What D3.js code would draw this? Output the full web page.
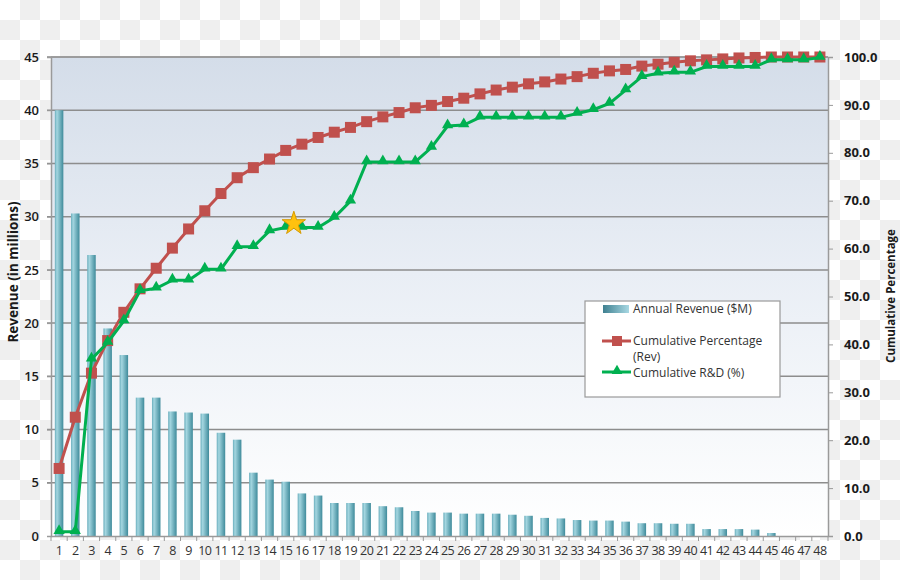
<!DOCTYPE html>
<html><head><meta charset="utf-8">
<script src="https://cdn.jsdelivr.net/npm/d3@7"></script>
<style>html,body{margin:0;padding:0;background:#fff;}svg{display:block;}</style>
</head><body>
<svg id="chart" width="900" height="580"></svg>
<script>
const categories = ["1","2","3","4","5","6","7","8","9","10","11","12","13","14","15","16","17","18","19","20","21","22","23","24","25","26","27","28","29","30","31","32","33","34","35","36","37","38","39","40","41","42","43","44","45","46","47","48"];
const revenue = [40.0,30.3,26.4,19.5,17.0,13.0,13.0,11.7,11.6,11.5,9.7,9.05,5.95,5.3,5.1,4.0,3.8,3.1,3.1,3.1,2.8,2.7,2.35,2.2,2.2,2.1,2.1,2.1,2.0,1.9,1.7,1.65,1.5,1.45,1.45,1.35,1.2,1.2,1.15,1.15,0.65,0.65,0.65,0.6,0.28,0,0,0];
const cumRevPct = [14.1,24.8,34.0,40.8,46.7,51.6,55.9,60.1,64.1,67.9,71.5,74.8,76.9,78.7,80.5,81.8,83.2,84.3,85.3,86.5,87.5,88.4,89.4,89.9,90.7,91.4,92.3,93.1,93.7,94.4,94.8,95.4,95.9,96.6,97.1,97.4,98.1,98.5,98.9,99.2,99.4,99.6,99.8,99.9,100,100,100,100];
const cumRnD = [0.9,0.9,36.9,40.4,44.9,51.2,51.7,53.4,53.4,55.7,55.7,60.4,60.4,63.7,64.4,64.4,64.4,66.5,69.9,78.1,78.1,78.1,78.1,81.1,85.6,85.8,87.4,87.4,87.4,87.4,87.4,87.4,88.2,89.0,90.3,93.1,95.9,96.6,96.8,96.8,98.0,98.0,98.0,98.0,99.4,99.4,99.4,99.9];
const leftTicks = [0,5,10,15,20,25,30,35,40,45];
const rightTicks = [0,10,20,30,40,50,60,70,80,90,100];
const starIndex = 14;
const legendLabels = ["Annual Revenue ($M)", "Cumulative Percentage", "(Rev)", "Cumulative R&D (%)"];

const svg = d3.select("#chart");
const defs = svg.append("defs");

const pat = defs.append("pattern").attr("id","checker").attr("width",40).attr("height",40).attr("patternUnits","userSpaceOnUse");
pat.append("rect").attr("width",40).attr("height",40).attr("fill","#ffffff");
pat.append("rect").attr("x",20).attr("y",0).attr("width",20).attr("height",20).attr("fill","#efefef");
pat.append("rect").attr("x",0).attr("y",20).attr("width",20).attr("height",20).attr("fill","#efefef");
svg.append("rect").attr("width",900).attr("height",580).attr("fill","url(#checker)");

const bg = defs.append("linearGradient").attr("id","plotbg").attr("x1",0).attr("y1",0).attr("x2",0).attr("y2",1);
bg.append("stop").attr("offset","0%").attr("stop-color","#d4dde9");
bg.append("stop").attr("offset","45%").attr("stop-color","#e9eef5");
bg.append("stop").attr("offset","100%").attr("stop-color","#ffffff");

const barG = defs.append("linearGradient").attr("id","bargrad").attr("x1",0).attr("y1",0).attr("x2",1).attr("y2",0);
barG.append("stop").attr("offset","0%").attr("stop-color","#6aaebd");
barG.append("stop").attr("offset","25%").attr("stop-color","#a4d6e0");
barG.append("stop").attr("offset","100%").attr("stop-color","#3f8b9b");

const legG = defs.append("linearGradient").attr("id","leggrad").attr("x1",0).attr("y1",0).attr("x2",1).attr("y2",0);
legG.append("stop").attr("offset","0%").attr("stop-color","#3f8090");
legG.append("stop").attr("offset","100%").attr("stop-color","#a8d8e3");

const L = 51, R = 828, T = 57, B = 536;
const x = d3.scaleBand().domain(categories).range([L, R]).padding(0);
const yL = d3.scaleLinear().domain([0,45]).range([B, T]);
const yR = d3.scaleLinear().domain([0,100]).range([B, T]);

svg.append("rect").attr("x",L).attr("y",T).attr("width",R-L).attr("height",B-T).attr("fill","url(#plotbg)");

svg.append("g").selectAll("line").data(leftTicks.filter(d=>d>0)).join("line")
  .attr("x1",L-4).attr("x2",R).attr("y1",d=>yL(d)).attr("y2",d=>yL(d))
  .attr("stroke","#8d8d8d").attr("stroke-width",1.5);

const bw = 8.5;
svg.append("g").selectAll("rect").data(revenue).join("rect")
  .attr("x",(d,i)=>x(categories[i]) + x.bandwidth()/2 - bw/2)
  .attr("y",d=>yL(d)).attr("width",bw).attr("height",d=>B - yL(d))
  .attr("fill","url(#bargrad)");

const leftAxis = d3.axisLeft(yL).tickValues(leftTicks).tickSize(4).tickPadding(8).tickFormat(d3.format("d"));
const gL = svg.append("g").attr("transform",`translate(${L},0)`).call(leftAxis);
gL.select(".domain").attr("stroke","#9a9a9a").attr("stroke-width",1.5);
gL.selectAll(".tick line").attr("stroke","#9a9a9a");
gL.selectAll("text").attr("font-family","'Open Sans', sans-serif").attr("font-size",13).attr("font-weight",600).attr("fill","#1a1a1a");

const rightAxis = d3.axisRight(yR).tickValues(rightTicks).tickSize(5).tickPadding(11).tickFormat(d3.format(".1f"));
const gR = svg.append("g").attr("transform",`translate(${R},0)`).call(rightAxis);
gR.select(".domain").attr("stroke","#9a9a9a").attr("stroke-width",1.5);
gR.selectAll(".tick line").attr("stroke","#9a9a9a");
gR.selectAll("text").attr("font-family","'Open Sans', sans-serif").attr("font-size",13).attr("font-weight",700).attr("fill","#1a1a1a");

const bottomAxis = d3.axisBottom(x).tickSize(0).tickPadding(10);
const gB = svg.append("g").attr("transform",`translate(0,${B})`).call(bottomAxis);
gB.select(".domain").attr("stroke","#9a9a9a").attr("stroke-width",1.5);
gB.selectAll("text").attr("font-family","'Open Sans', sans-serif").attr("font-size",12.5).attr("letter-spacing","-0.6").attr("fill","#333");
svg.append("g").selectAll("line").data(categories).join("line")
  .attr("x1",d=>x(d)).attr("x2",d=>x(d)).attr("y1",B).attr("y2",B+5)
  .attr("stroke","#9a9a9a").attr("stroke-width",1);
svg.append("line").attr("x1",R).attr("x2",R).attr("y1",B).attr("y2",B+5).attr("stroke","#9a9a9a");

svg.append("line").attr("x1",L).attr("x2",R).attr("y1",T).attr("y2",T).attr("stroke","#9a9a9a").attr("stroke-width",1.5);

const cx = (d,i)=>x(categories[i]) + x.bandwidth()/2;
const redLine = d3.line().x(cx).y(d=>yR(d));
svg.append("path").datum(cumRevPct).attr("d",redLine).attr("fill","none").attr("stroke","#c0504d").attr("stroke-width",3);
svg.append("g").selectAll("rect").data(cumRevPct).join("rect")
  .attr("x",(d,i)=>cx(d,i)-5.5).attr("y",d=>yR(d)-5.5).attr("width",11).attr("height",11)
  .attr("fill","#c0504d");

const greenLine = d3.line().x(cx).y(d=>yR(d));
svg.append("path").datum(cumRnD).attr("d",greenLine).attr("fill","none").attr("stroke","#00b050").attr("stroke-width",3);
const tri = d3.symbol().type(d3.symbolTriangle).size(55);
svg.append("g").selectAll("path").data(cumRnD).join("path")
  .attr("d",tri).attr("transform",(d,i)=>`translate(${cx(d,i)},${yR(d)-1})`)
  .attr("fill","#00b050");

// star marker (sits just right of point 15)
const star = d3.symbol().type(d3.symbolStar).size(170);
svg.append("path").attr("d",star)
  .attr("transform",`translate(${cx(cumRnD[starIndex],starIndex) + x.bandwidth()/2},${yR(cumRnD[starIndex])-4})`)
  .attr("fill","#ffc20e").attr("stroke","#d49a00").attr("stroke-width",1);

svg.append("text").attr("transform","translate(18,272) rotate(-90)").attr("text-anchor","middle")
  .attr("font-family","'Open Sans', sans-serif").attr("font-size",13.5).attr("font-weight",700).attr("fill","#1a1a1a")
  .text("Revenue (in millions)");
svg.append("text").attr("transform","translate(895,296) rotate(-90)").attr("text-anchor","middle")
  .attr("font-family","'Open Sans', sans-serif").attr("font-size",11.5).attr("font-weight",700).attr("fill","#1a1a1a")
  .text("Cumulative Percentage");

const lg = svg.append("g");
lg.append("rect").attr("x",585).attr("y",301).attr("width",195).attr("height",96).attr("fill","#ffffff").attr("stroke","#9a9a9a").attr("stroke-width",1.2);
lg.append("rect").attr("x",603).attr("y",305).attr("width",26).attr("height",8).attr("fill","url(#leggrad)");
lg.append("line").attr("x1",602).attr("x2",631).attr("y1",341).attr("y2",341).attr("stroke","#c0504d").attr("stroke-width",3);
lg.append("rect").attr("x",612).attr("y",336).attr("width",10).attr("height",10).attr("fill","#c0504d");
lg.append("line").attr("x1",602).attr("x2",631).attr("y1",372).attr("y2",372).attr("stroke","#00b050").attr("stroke-width",3);
lg.append("path").attr("d",d3.symbol().type(d3.symbolTriangle).size(50)).attr("transform","translate(617,371)").attr("fill","#00b050");
const ltxt = [[legendLabels[0],309],[legendLabels[1],341],[legendLabels[2],357],[legendLabels[3],373]];
lg.selectAll("text").data(ltxt).join("text")
  .attr("x",633).attr("y",d=>d[1]).attr("dy","0.35em")
  .attr("font-family","'Open Sans', sans-serif").attr("font-size",12).attr("fill","#333")
  .text(d=>d[0]);
</script>
</body></html>
